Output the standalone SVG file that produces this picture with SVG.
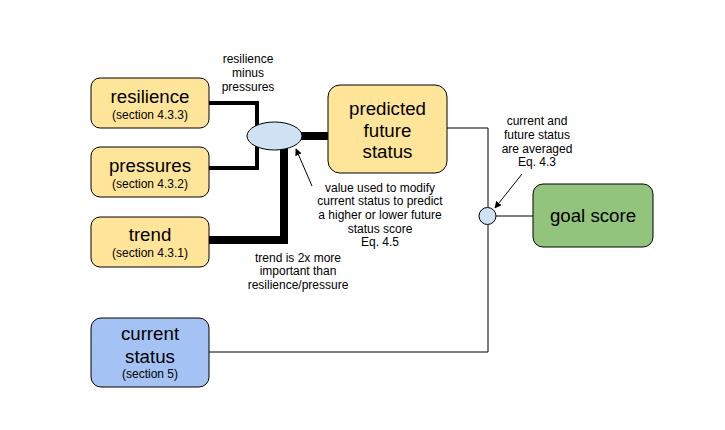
<svg xmlns="http://www.w3.org/2000/svg" width="725" height="430" viewBox="0 0 725 430">
<style>
text{font-family:"Liberation Sans",Arial,sans-serif;fill:#000;text-anchor:middle}
.big{font-size:18.7px}
.sm{font-size:12px}
.lab{font-size:12px}
.box{stroke:#000;stroke-width:1}
.y{fill:#ffe599}
.c{fill:none;stroke:#000;stroke-linejoin:miter}
</style>
<defs>
<marker id="ah" viewBox="0 0 10 10" refX="9" refY="5" markerWidth="7" markerHeight="7" orient="auto" markerUnits="userSpaceOnUse">
<path d="M0,0 L10,5 L0,10 z" fill="#000"/>
</marker>
</defs>
<rect width="725" height="430" fill="#fff"/>
<g id="connectors">
<path class="c" stroke-width="4" d="M209,103 H257 V126"/>
<path class="c" stroke-width="4" d="M209,168 H257 V146"/>
<path class="c" stroke-width="8" d="M209,240 H284 V148"/>
<path class="c" stroke-width="8" d="M300,136 H328"/>
<path class="c" stroke-width="1" d="M447,128 H488 V207"/>
<path class="c" stroke-width="1" d="M496,216 H533"/>
<path class="c" stroke-width="1" d="M209,352 H488 V225"/>
<path class="c" stroke-width="1" d="M312,186 L296,149" marker-end="url(#ah)"/>
<path class="c" stroke-width="1" d="M522,174 L495,208" marker-end="url(#ah)"/>
</g>
<g id="resilience">
<rect class="box y" x="91" y="78" width="118" height="50" rx="9"/>
<text class="big" x="150" y="103">resilience</text>
<text class="sm" x="150" y="119">(section 4.3.3)</text>
</g>
<g id="pressures">
<rect class="box y" x="91" y="147" width="118" height="50" rx="9"/>
<text class="big" x="150" y="172">pressures</text>
<text class="sm" x="150" y="188">(section 4.3.2)</text>
</g>
<g id="trend">
<rect class="box y" x="91" y="217" width="118" height="50" rx="9"/>
<text class="big" x="150" y="241">trend</text>
<text class="sm" x="150" y="257">(section 4.3.1)</text>
</g>
<g id="combine">
<ellipse cx="274.5" cy="136" rx="27.5" ry="14" fill="#cfe2f3" stroke="#000" stroke-width="1"/>
</g>
<g id="predicted">
<rect class="box y" x="328" y="85" width="119" height="88" rx="12"/>
<text class="big" x="387.5" y="115">predicted</text>
<text class="big" x="387.5" y="137">future</text>
<text class="big" x="387.5" y="158">status</text>
</g>
<g id="average">
<circle cx="487.5" cy="216" r="8.5" fill="#cfe2f3" stroke="#000" stroke-width="1"/>
</g>
<g id="goal">
<rect class="box" x="533" y="184" width="120" height="63" rx="10" fill="#93c47d"/>
<text class="big" x="593" y="222">goal score</text>
</g>
<g id="current">
<rect class="box" x="91" y="318" width="118" height="69" rx="10" fill="#a4c2f4"/>
<text class="big" x="150" y="340">current</text>
<text class="big" x="150" y="363">status</text>
<text class="sm" x="150" y="378">(section 5)</text>
</g>
<g id="labels">
<text class="lab" x="248" y="63">resilience</text>
<text class="lab" x="248" y="77">minus</text>
<text class="lab" x="248" y="91">pressures</text>
<text class="lab" x="380" y="192">value used to modify</text>
<text class="lab" x="380" y="205">current status to predict</text>
<text class="lab" x="380" y="219">a higher or lower future</text>
<text class="lab" x="380" y="233">status score</text>
<text class="lab" x="380" y="246">Eq. 4.5</text>
<text class="lab" x="298" y="262">trend is 2x more</text>
<text class="lab" x="298" y="275">important than</text>
<text class="lab" x="298" y="289">resilience/pressure</text>
<text class="lab" x="537" y="125">current and</text>
<text class="lab" x="537" y="139">future status</text>
<text class="lab" x="537" y="153">are averaged</text>
<text class="lab" x="537" y="166">Eq. 4.3</text>
</g>
</svg>
